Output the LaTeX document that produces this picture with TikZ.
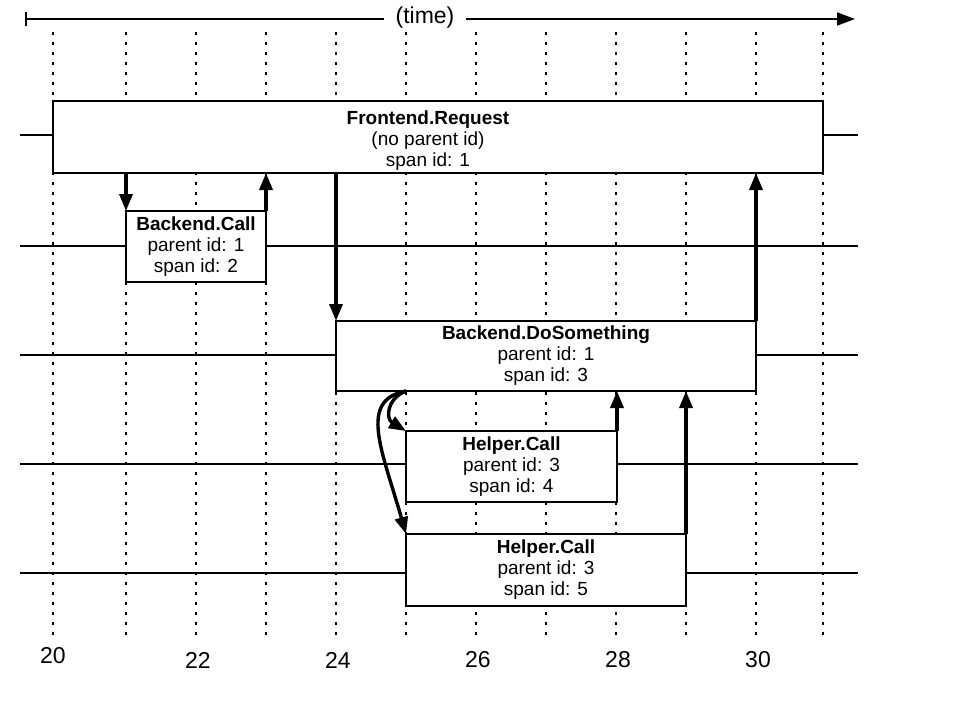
\documentclass[tikz,border=0pt]{standalone}
\usepackage{fontspec}
\setmainfont{Liberation Sans}
\usetikzlibrary{arrows.meta,calc}
\begin{document}
\begin{tikzpicture}[x=1pt,y=-1pt,
  lane/.style={line width=1.6pt},
  gridline/.style={line width=1.8pt, dash pattern=on 3pt off 7pt},
  axis/.style={line width=1.6pt},
  span/.style={draw, line width=1.8pt, fill=white, rectangle, inner sep=0pt, outer sep=0pt},
  lbl/.style={align=center, font=\fontsize{19}{21}\selectfont, inner sep=0pt},
  call/.style={line width=3.4pt, -{Triangle[length=17pt,width=13pt]}},
  tick/.style={font=\fontsize{23}{26}\selectfont, inner sep=0pt}]
\useasboundingbox (0,0) rectangle (954,702);

% time grid
\foreach \x in {53,126,196,266,336,406,476,546,616,686,756,823}
  \draw[gridline] (\x,32) -- (\x,640);

% time axis
\node[tick, inner xsep=11pt] (tl) at (425,18) {(time)};
\coordinate (t0) at (25,19);
\coordinate (t1) at (855,19);
\draw[axis, {Bar[width=14pt]}-] (t0) -- (t0 -| tl.west);
\draw[axis, -{Triangle[length=18pt,width=13pt]}] (t1 -| tl.east) -- (t1);

% lanes
\foreach \y in {135,246,355,464,573}
  \draw[lane] (20,\y) -- (858,\y);

% spans
\node[span, minimum width=770pt, minimum height=72pt] (fe) at (438,137) {};
\node[span, minimum width=140pt, minimum height=71pt] (bc) at (196,246.5) {};
\node[span, minimum width=420pt, minimum height=70pt] (ds) at (546,356) {};
\node[span, minimum width=211pt, minimum height=71pt] (h4) at (511.5,466.5) {};
\node[span, minimum width=280pt, minimum height=72pt] (h5) at (546,570) {};

\node[lbl] (fet) at (428,141) {\textbf{Frontend.Request}\\(no parent id)\\span id: 1};
\node[lbl] (bct) at (bc) {\textbf{Backend.Call}\\parent id: 1\\span id: 2};
\node[lbl] (dst) at (ds) {\textbf{Backend.DoSomething}\\parent id: 1\\span id: 3};
\node[lbl] (h4t) at (h4) {\textbf{Helper.Call}\\parent id: 3\\span id: 4};
\node[lbl] (h5t) at (h5) {\textbf{Helper.Call}\\parent id: 3\\span id: 5};

% tick labels
\node[tick] (n20) at (53,656) {20};
\node[tick] (n22) at (198,660) {22};
\node[tick] (n24) at (338,660) {24};
\node[tick] (n26) at (478,660) {26};
\node[tick] (n28) at (618,660) {28};
\node[tick] (n30) at (758,660) {30};

% calls and returns
\draw[call] (bc.north west |- fe.south) -- (bc.north west);
\draw[call] (bc.north east) -- (bc.north east |- fe.south);
\draw[call] (ds.north west |- fe.south) -- (ds.north west);
\draw[call] (ds.north east) -- (ds.north east |- fe.south);
\draw[call] (h4.north east) -- (h4.north east |- ds.south);
\draw[call] (h5.north east) -- (h5.north east |- ds.south);
\coordinate (fork) at (h4.north west |- ds.south);
\draw[call] (fork) .. controls +(-20,8) and +(-20,-12) .. (h4.north west);
\draw[call] (fork) .. controls +(-48,9) and +(-24,-84) .. (h5.north west);
\end{tikzpicture}
\end{document}
